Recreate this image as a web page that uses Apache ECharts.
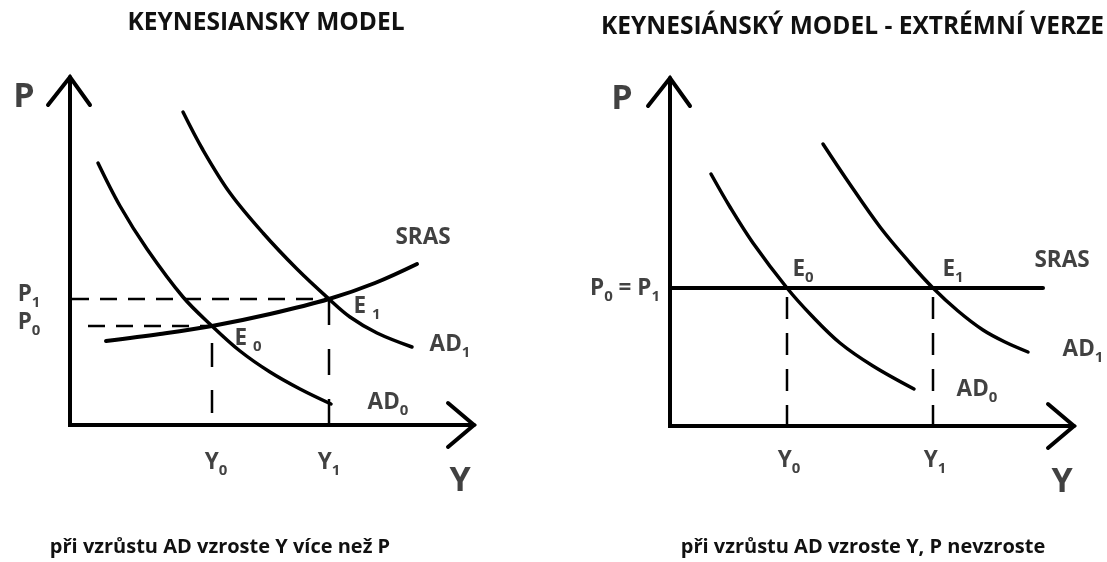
<!DOCTYPE html>
<html>
<head>
<meta charset="utf-8">
<title>Keynesiansky model</title>
<script src="https://cdn.jsdelivr.net/npm/echarts@6/dist/echarts.min.js"></script>
<style>
  html, body { margin: 0; padding: 0; background: #fff; }
  #chart { width: 1107px; height: 562px; }
</style>
</head>
<body>
<div id="chart"></div>
<script>
// hodnoty (libovolné jednotky: Y vodorovně, P svisle)
const ad0Left = [[7, 65.5], [12.5, 54.75], [19.25, 44], [28.25, 32], [35.5, 24.75], [42.5, 18.5], [50, 13.25], [57.5, 9], [65.25, 5.25]];
const ad1Left = [[28.25, 78.25], [33.25, 68.75], [40, 58], [48.25, 48], [56.75, 39], [64.75, 31.5], [70, 27], [76.75, 23], [85.5, 19.5]];
const srasLeft = [[9, 21], [22.5, 22.75], [35.5, 24.75], [50, 27.75], [64.75, 31.5], [76.25, 35.5], [86.75, 40.25]];
const eqLeft = [[35.5, 24.75], [64.75, 31.5]]; // E0, E1

const ad0Right = [[10.25, 63], [15, 54.75], [20.75, 45.75], [29.25, 34.5], [35.5, 27.5], [42.5, 20.75], [50.75, 15], [61, 9.25]];
const ad1Right = [[38.25, 70.5], [44.25, 61.5], [52.5, 49.75], [60, 40.75], [65.75, 34.5], [72, 28.75], [78.25, 24], [83.75, 21], [89.5, 18.5]];
const srasRight = [[0, 34.5], [93.25, 34.5]];
const eqRight = [[29.25, 34.5], [65.75, 34.5]];

const axisEnd = [101, 87];   // konce os (šipky)

const FONT = 'Open Sans';
const myChart = echarts.init(document.getElementById('chart'));

function curve(data, idx, width) {
    return {
        type: 'line', xAxisIndex: idx, yAxisIndex: idx, data: data,
        smooth: 0.35, showSymbol: false, silent: true,
        lineStyle: { color: '#000', width: width || 3.5, cap: 'round' }
    };
}
function dashed(data, idx, dash) {
    return {
        type: 'line', xAxisIndex: idx, yAxisIndex: idx, data: data,
        showSymbol: false, silent: true,
        lineStyle: { color: '#000', width: 2.5, type: dash }
    };
}
function axesSeries(idx) {
    const ex = axisEnd[0], ey = axisEnd[1];
    return [
        curve([[0, ey], [0, 0], [ex, 0]], idx, 4),
        curve([[-5.5, ey - 7], [0, ey], [5, ey - 7]], idx, 4),
        curve([[ex - 6.5, 5.5], [ex, 0], [ex - 6.5, -5.5]], idx, 4)
    ].map(s => Object.assign(s, { smooth: false, lineStyle: { color: '#000', width: 4, cap: 'round', join: 'miter' } }));
}

const rich = {
    b: { fontFamily: FONT, fontWeight: 'bold', fontSize: 22.5, color: '#111', lineHeight: 27, verticalAlign: 'top' },
    s: { fontFamily: FONT, fontWeight: 'bold', fontSize: 15, color: '#111', lineHeight: 10, verticalAlign: 'bottom' },
    big: { fontFamily: FONT, fontWeight: 'bold', fontSize: 34, color: '#111', lineHeight: 40 }
};
function labels(items, idx) {
    return {
        type: 'scatter', xAxisIndex: idx, yAxisIndex: idx, silent: true,
        symbolSize: 1, itemStyle: { color: 'rgba(0,0,0,0)' },
        label: { show: true, position: 'inside', formatter: p => p.data.text, rich: rich },
        data: items.map(d => ({ value: [d[0], d[1]], text: d[2] }))
    };
}

const labelsLeft = [
    [-11.5, 82, '{big|P}'],
    [-10.25, 32, '{b|P}{s|1}'],
    [-10.25, 25, '{b|P}{s|0}'],
    [36.5, -10, '{b|Y}{s|0}'],
    [64.75, -10, '{b|Y}{s|1}'],
    [97.5, -14, '{big|Y}'],
    [44.5, 21, '{b|E }{s|0}'],
    [74.25, 29, '{b|E }{s|1}'],
    [88.25, 46.25, '{b|SRAS}'],
    [95, 19.5, '{b|AD}{s|1}'],
    [79.5, 5, '{b|AD}{s|0}']
];
const labelsRight = [
    [-12, 81.75, '{big|P}'],
    [-11.25, 33.75, '{b|P}{s|0}{b| = P}{s|1}'],
    [33.25, 38.5, '{b|E}{s|0}'],
    [70.75, 38.5, '{b|E}{s|1}'],
    [98, 40.75, '{b|SRAS}'],
    [103.25, 18.5, '{b|AD}{s|1}'],
    [76.75, 8.5, '{b|AD}{s|0}'],
    [29.75, -9.25, '{b|Y}{s|0}'],
    [66.25, -9.25, '{b|Y}{s|1}'],
    [98, -14, '{big|Y}']
];

const hiddenX = { type: 'value', min: -15, max: 105, show: false };
const hiddenY = { type: 'value', min: -20, max: 90, show: false };

const titleStyle = { fontFamily: FONT, fontWeight: 'bold', fontSize: 24.5, color: '#111' };
const captionStyle = { fontFamily: FONT, fontWeight: 'bold', fontSize: 20, color: '#111' };

var option = {
    animation: false,
    backgroundColor: '#fff',
    title: [
        { text: 'KEYNESIANSKY MODEL', left: 266, top: 11, padding: 0, textAlign: 'center', textStyle: titleStyle },
        { text: 'KEYNESIÁNSKÝ MODEL - EXTRÉMNÍ VERZE', left: 601, top: 15, padding: 0, textStyle: titleStyle },
        { text: 'při vzrůstu AD vzroste Y více než P', left: 220, top: 537, padding: 0, textAlign: 'center', textStyle: captionStyle },
        { text: 'při vzrůstu AD vzroste Y, P nevzroste', left: 863, top: 537, padding: 0, textAlign: 'center', textStyle: captionStyle }
    ],
    grid: [
        { left: 10, top: 65, width: 480, height: 440 },
        { left: 610, top: 66, width: 480, height: 440 }
    ],
    xAxis: [Object.assign({ gridIndex: 0 }, hiddenX), Object.assign({ gridIndex: 1 }, hiddenX)],
    yAxis: [Object.assign({ gridIndex: 0 }, hiddenY), Object.assign({ gridIndex: 1 }, hiddenY)],
    series: [].concat(
        axesSeries(0),
        [
            dashed([[0.5, eqLeft[1][1]], eqLeft[1]], 0, [17, 11]),
            dashed([[4.5, eqLeft[0][1]], eqLeft[0]], 0, [17, 11]),
            dashed([[eqLeft[0][0], 20.5], [eqLeft[0][0], 3]], 0, [24, 23]),
            dashed([eqLeft[1], [eqLeft[1][0], 0]], 0, [26, 24]),
            curve(srasLeft, 0, 4),
            curve(ad0Left, 0),
            curve(ad1Left, 0),
            labels(labelsLeft, 0)
        ],
        axesSeries(1),
        [
            dashed([[eqRight[0][0], 32.25], [eqRight[0][0], 0]], 1, [22, 14]),
            dashed([[eqRight[1][0], 32.25], [eqRight[1][0], 0]], 1, [22, 14]),
            curve(srasRight, 1, 4),
            curve(ad0Right, 1),
            curve(ad1Right, 1),
            labels(labelsRight, 1)
        ]
    )
};
myChart.setOption(option);
</script>
</body>
</html>
